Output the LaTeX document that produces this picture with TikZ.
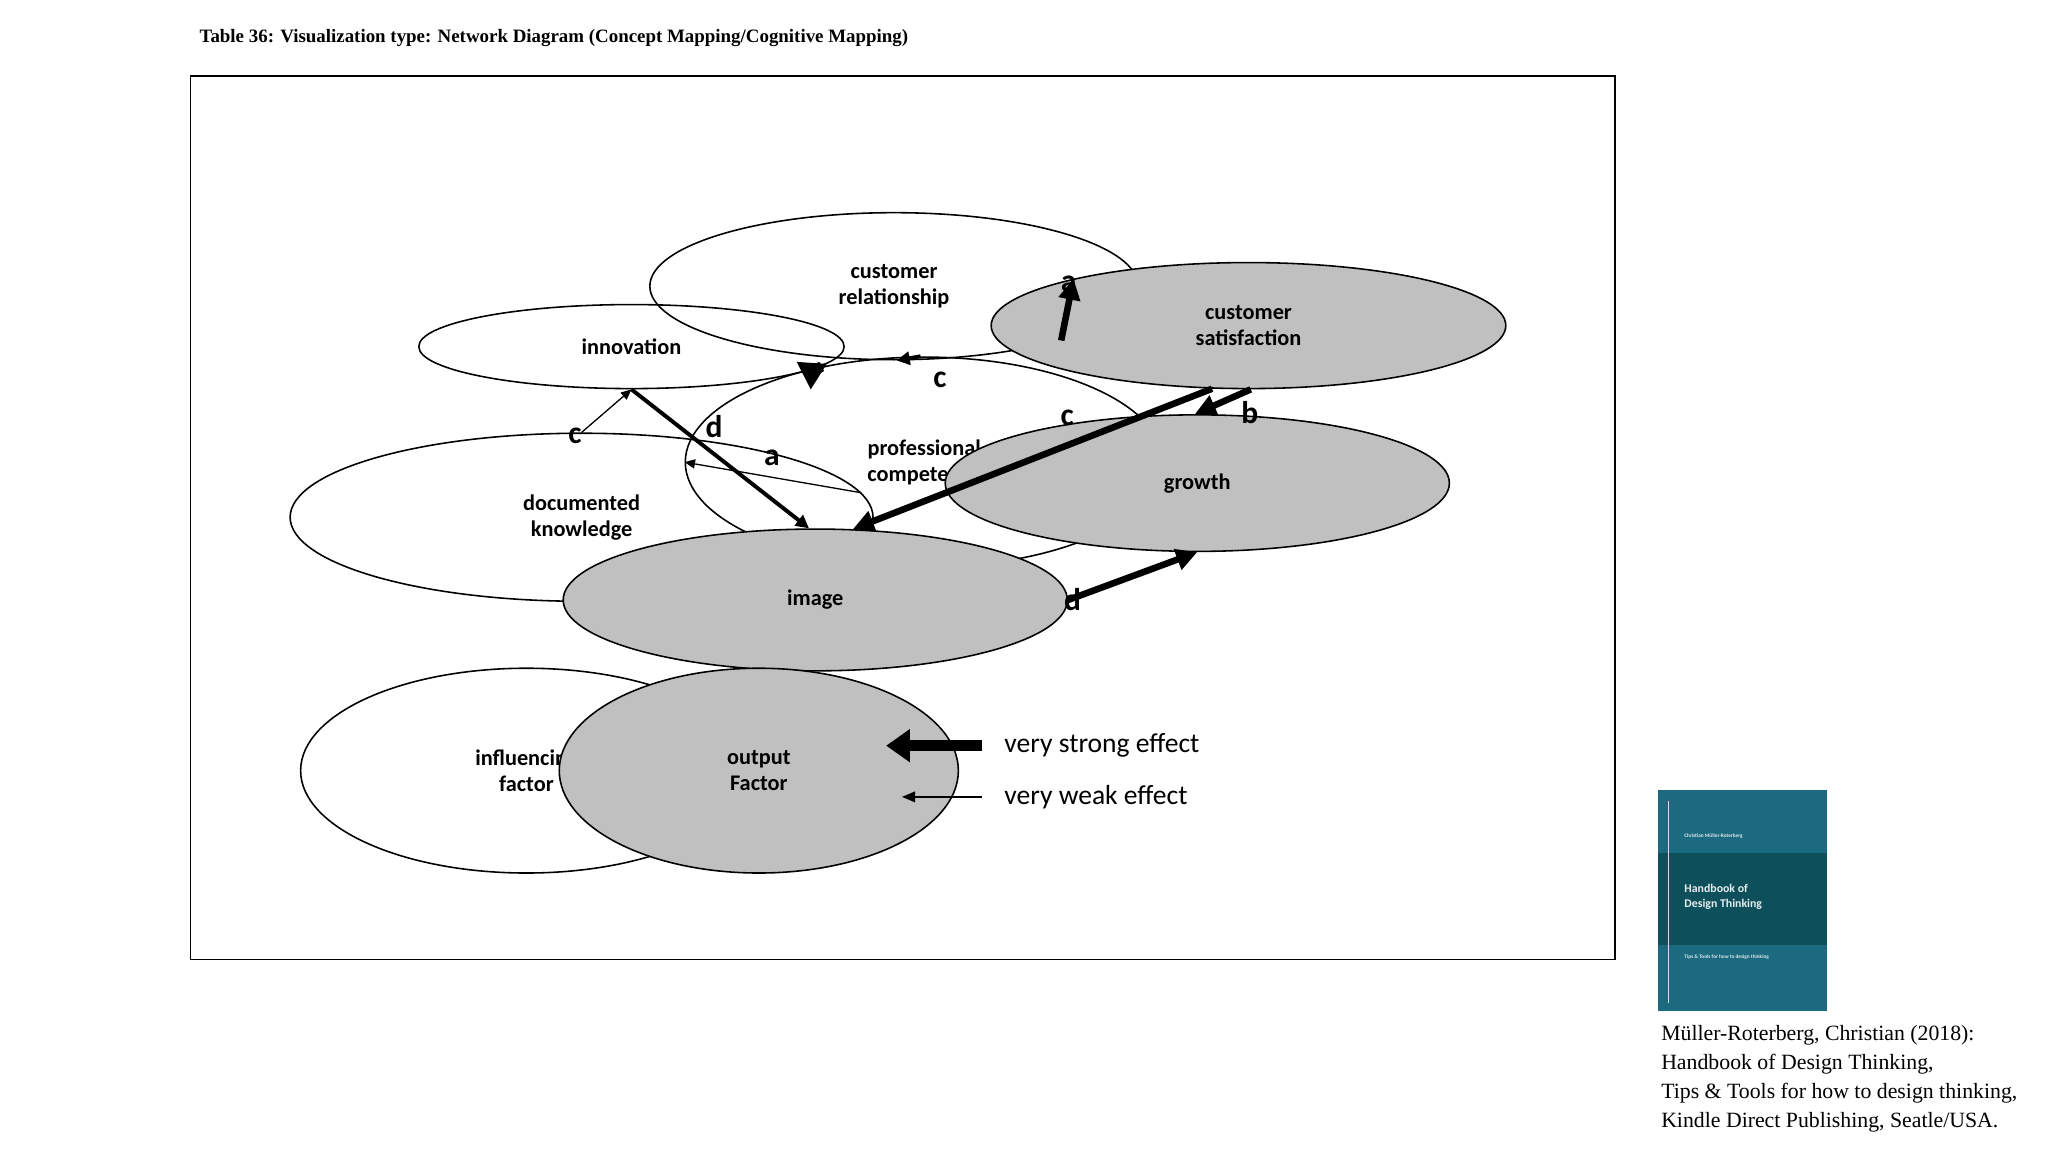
\documentclass[tikz,border=0pt]{standalone}
\usepackage{fontspec}
\setmainfont{Liberation Serif}
\newfontfamily\calfnt{Carlito}
\usetikzlibrary{shapes.geometric,arrows.meta}
\definecolor{gr}{HTML}{C0C0C0}
\definecolor{cvA}{HTML}{1C6A80}
\definecolor{cvB}{HTML}{0E4F5C}
\begin{document}
\begin{tikzpicture}[x=0.5pt,y=-0.5pt,
  el/.style={ellipse,draw,line width=0.6pt,inner sep=0pt,align=center,font=\calfnt\fontsize{8.5}{10}\selectfont\bfseries},
  outf/.style={el,fill=gr},
  lab/.style={font=\calfnt\fontsize{12}{12}\selectfont\bfseries},
  vthick/.style={line width=4pt,-{Triangle[length=10pt,width=11pt]}},
  thick2/.style={line width=2.5pt,-{Triangle[length=8pt,width=8pt]}},
  med/.style={line width=1.5pt,-{Triangle[length=5pt,width=5pt]}},
  thin2/.style={line width=0.5pt,-{Triangle[length=4pt,width=3.5pt]}}]
\useasboundingbox (0,0) rectangle (1560,877.5);
\node[anchor=west,font=\fontsize{7.2}{8}\selectfont\bfseries] (title) at (145,29) {Table 36: Visualization type: Network Diagram (Concept Mapping/Cognitive Mapping)};
\draw[line width=0.6pt] (145,58) rectangle (1230,731);
\node[el,minimum width=186,minimum height=56] (cr) at (681,218) {customer\\relationship};
\node[outf,minimum width=196,minimum height=48] (cs) at (951,248) {customer\\satisfaction};
\node[el,minimum width=162,minimum height=32] (in) at (481,264) {innovation};
\node[el,minimum width=182,minimum height=80] (pc) at (704,352) {professional\\competence};
\node[outf,minimum width=192,minimum height=52] (gr) at (912,368) {growth};
\node[el,minimum width=222,minimum height=64] (dk) at (443,394) {documented\\knowledge};
\node[outf,minimum width=192,minimum height=54] (im) at (621,457) {image};
\node[el,minimum width=172,minimum height=78] (lf) at (401,587) {influencing\\factor};
\node[outf,minimum width=152,minimum height=78] (lo) at (578,587) {output\\Factor};
\draw[thick2] (cr.-18) -- (cs.165);
\draw[vthick] (pc.137) -- (in.-5);
\draw[med] (pc.92) -- (cr.-88);
\draw[thick2] (cs.-120) -- (im.62);
\draw[thick2] (cs.-88) -- (gr.92);
\draw[thick2] (im.0) -- (gr.-90);
\draw[med] (in.-90) -- (im.95);
\draw[thin2] (dk.90) -- (in.-90);
\draw[thin2] (dk.5) -- (pc.180);
\node[lab] (la1) at (814,216) {a};
\node[lab] (lc1) at (716,289) {c};
\node[lab] (lc2) at (813,318) {c};
\node[lab] (lb) at (952,314) {b};
\node[lab] (ld1) at (817,457) {d};
\node[lab] (ld2) at (544,325) {d};
\node[lab] (lc3) at (438,332) {c};
\node[lab] (la2) at (588,349) {a};
\coordinate (s1) at (748,568); \coordinate (e1) at (675,568);
\coordinate (s2) at (748,607); \coordinate (e2) at (687,607);
\draw[line width=4pt,-{Triangle[length=9pt,width=12pt]}] (s1) -- (e1);
\draw[line width=0.7pt,-{Triangle[length=5pt,width=4pt]}] (s2) -- (e2);
\node[anchor=west,font=\calfnt\fontsize{10.5}{12}\selectfont] (t1) at (758,568) {very strong effect};
\node[anchor=west,font=\calfnt\fontsize{10.5}{12}\selectfont] (t2) at (758,607) {very weak effect};
% book cover
\fill[cvA] (1263,602) rectangle (1392,770);
\fill[cvB] (1263,650) rectangle (1392,720);
\draw[white!80!cvA,line width=0.6pt] (1271,610) -- (1271,764);
\node[anchor=west,white!85!cvA,font=\calfnt\fontsize{2}{2}\selectfont\bfseries] (cv1) at (1276,637) {Christian Müller-Roterberg};
\node[anchor=west,white!90!cvB,align=left,font=\calfnt\fontsize{4.5}{5.5}\selectfont\bfseries] (cv2) at (1276,683) {Handbook of\\Design Thinking};
\node[anchor=west,white!85!cvA,font=\calfnt\fontsize{2}{2}\selectfont\bfseries] (cv3) at (1276,729) {Tips \& Tools for how to design thinking};
\node[anchor=north west,align=left,inner sep=0pt,font=\fontsize{8.3}{11}\selectfont] (cit) at (1265,781) {Müller-Roterberg, Christian (2018):\\Handbook of Design Thinking,\\Tips \& Tools for how to design thinking,\\Kindle Direct Publishing, Seatle/USA.};
\end{tikzpicture}
\end{document}
